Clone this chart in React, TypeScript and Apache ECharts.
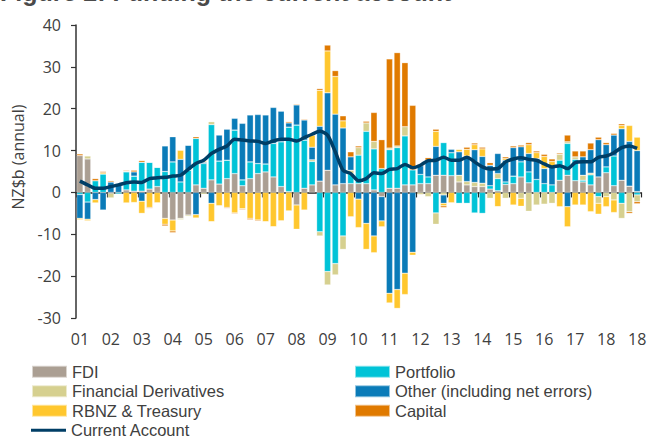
import React, { useEffect, useRef } from "react";
import * as echarts from "echarts";

const tickLabels = ["01","02","03","04","05","06","07","08","09","10","11","12","13","14","15","16","17","18","18"];

const fdi = [8.8,8.0,0,0,-0.2,0,0.6,0.3,0.3,0.8,1.4,-6.2,-6.6,-6.2,-5.4,1.8,1.0,3.0,2.0,3.3,4.5,1.6,3.3,4.5,4.9,3.7,1.4,0.2,-3.0,1.0,1.8,2.7,5.3,1.8,2.1,2.1,2.1,2.1,0.6,-1.0,1.0,1.0,1.8,1.8,2.1,2.1,4.1,4.1,4.0,2.5,1.8,1.4,1.4,0.8,0.4,1.9,2.1,3.7,2.3,0,0,0,2.9,4.1,2.8,2.5,1.8,3.7,4.7,1.6,2.9,1.5,0.2];
const portfolio = [-0.5,-2.3,2.8,4.4,0,-0.4,4.3,3.6,6.9,6.4,4.6,5.0,7.3,2.5,5.3,11.1,5.9,13.2,5.5,4.4,10.4,1.4,4.0,2.4,1.9,8.0,10.7,15.4,16.1,11.5,5.6,-9.4,-18.9,-17.0,-10.4,2.4,6.8,12.5,9.8,5.7,9.2,9.7,11.7,3.6,2.2,1.6,-4.9,7.8,5.5,-2.6,-2.6,-4.9,-5.0,0.8,2.9,0.6,1.8,3.6,2.6,3.1,2.1,1.8,4.8,7.6,5.1,0.4,2.4,-1.0,1.4,7.1,-2.6,0,-0.6];
const derivatives = [0,0.7,0,0,-1.1,0,0.2,0,0,0,0,0,0,-0.3,-0.3,0,-0.4,0.7,0,0,0,0,0,0,0,0,0,0,0,0,0.4,-1.0,-3.2,-2.7,-3.2,0.8,1.8,2.0,1.8,0,0.4,0.4,2.2,0,-0.5,-1.0,-2.7,-0.6,0,1.6,0.8,1.0,0.8,-1.4,1.2,-1.4,0,-1.4,-4.5,-3.0,-2.8,-2.6,1.4,0.4,0.6,1.2,0.4,-1.6,-1.0,-1.8,-3.6,-4.6,-1.6];
const other = [-5.7,-4.1,-1.7,-4.2,2.5,2.2,0,1.0,-2.1,0,0,6.1,6.0,5.4,6.0,-5.3,0.3,-2.6,6.2,7.4,2.8,13.5,11.2,11.7,11.7,8.6,7.3,1.0,4.8,4.8,3.0,13.1,18.5,16.9,13.3,3.2,-1.6,-7.4,-10.4,-5.8,-24.1,-23.2,-19.3,-14.3,2.1,4.0,6.9,-2.0,0.8,5.6,6.1,7.8,6.4,4.9,4.8,5.2,6.8,3.6,4.4,5.0,3.6,4.4,0,-3.4,0,4.4,5.6,8.9,5.3,5.0,12.3,10.7,9.8];
const rbnz = [-0.3,-0.4,-0.8,0.3,0,0,-2.5,-2.4,-2.9,-3.6,-2.5,-1.4,-2.6,2.2,0,-0.8,0.3,-4.4,-3.2,-3.6,-4.9,-3.9,-6.2,-6.6,-7.0,-8.2,-6.8,-4.4,-5.8,-4.2,2.9,8.6,10.0,9.0,1.7,-5.8,-6.8,-6.2,-4.0,-1.4,-2.3,-4.5,-5.1,-0.7,0,0,3.6,-0.6,-2.5,0.6,1.6,1.2,1.8,0,-3.4,0.4,-3.0,-1.9,2.1,1.4,2.9,1.2,-3.4,-4.8,-3.0,-3.0,-4.6,-2.6,-2.4,-3.0,0.8,3.8,3.2];
const capital = [0.4,0,0.5,0.3,0.3,0.1,0.2,0.4,0.4,-0.2,0,-0.4,-0.4,0,0,0.4,0,0,0,-0.2,-0.2,-0.2,-0.3,-0.2,0,0,0,0.3,0.2,0.2,0,0.4,1.4,1.4,1.2,1.2,0.4,0.4,6.9,6.9,21.3,22.3,15.3,15.4,0.3,0.6,0.5,-0.4,0,0,0.5,0.4,0.4,0.6,0,0.4,0.4,0.4,0.5,0.4,0.5,0.6,0.3,1.6,1.4,1.4,1.6,0.6,0.5,0.4,0.4,-0.4,-0.5];
const currentAccount = [2.7,1.8,1.0,1.0,1.4,1.8,2.3,2.5,2.4,3.3,3.5,3.6,3.9,4.1,5.5,6.9,7.7,9.3,10.3,11.1,12.7,12.5,12.3,12.2,11.7,12.3,12.7,12.7,12.3,13.1,13.9,14.6,13.7,9.7,5.3,4.5,2.8,3.3,4.7,4.5,5.5,5.7,6.7,5.9,6.5,7.6,7.7,8.4,7.7,7.7,8.4,7.3,6.1,5.6,5.7,7.3,8.0,8.3,7.9,7.7,6.8,6.1,6.4,5.7,7.1,7.3,7.3,8.4,8.7,9.5,10.7,11.1,10.5];

const quarters = currentAccount.map((_, i) => `${2001 + Math.floor(i / 4)}Q${(i % 4) + 1}`);

const FONT = "'Open Sans', 'Liberation Sans', sans-serif";
const LEGEND_FONT = "'Liberation Sans', Arial, sans-serif";
const TXT = "#404040";

const legendBase = {
  orient: "vertical",
  itemWidth: 35,
  itemHeight: 12,
  itemGap: 0,
  padding: 0,
  textStyle: { fontSize: 16.5, color: TXT, lineHeight: 19.5, fontFamily: LEGEND_FONT },
};

export default function App() {
  const ref = useRef<HTMLDivElement>(null);
  useEffect(() => {
    if (!ref.current) return;
    const chart = echarts.init(ref.current, null, { renderer: "svg" });
    const barSeries = (name: string, data: number[], color: string) => ({
      name,
      type: "bar",
      stack: "flows",
      data,
      barCategoryGap: "18%",
      itemStyle: { color, borderColor: "rgba(255,255,255,0.55)", borderWidth: 0.5 },
      emphasis: { disabled: true },
    });
    chart.setOption({
      animation: false,
      textStyle: { fontFamily: FONT },
      grid: { left: 76, right: 11, top: 25, bottom: 123 },
      graphic: [
        {
          type: "text",
          left: 0,
          top: -21,
          style: { text: "Figure 2: Funding the current account", fontSize: 25, fontWeight: "bold", fill: "#4a4a4a", fontFamily: "'Liberation Sans', sans-serif" },
        },
        {
          type: "text",
          x: 18,
          y: 157,
          rotation: Math.PI / 2,
          style: { text: "NZ$b (annual)", fontSize: 16, fill: TXT, fontFamily: FONT, align: "center", verticalAlign: "middle" },
        },
      ],
      legend: [
        {
          ...legendBase,
          left: 31,
          top: 362,
          data: [
            { name: "FDI", icon: "rect" },
            { name: "Financial Derivatives", icon: "rect" },
            { name: "RBNZ & Treasury", icon: "rect" },
          ],
        },
        {
          ...legendBase,
          left: 31,
          top: 420.5,
          data: [{ name: "Current Account", icon: "path://M0,0 L36,0 L36,3 L0,3 Z" }],
        },
        {
          ...legendBase,
          left: 354,
          top: 362,
          data: [
            { name: "Portfolio", icon: "rect" },
            { name: "Other (including net errors)", icon: "rect" },
            { name: "Capital", icon: "rect" },
          ],
        },
      ],
      xAxis: [
        {
          type: "category",
          data: quarters,
          position: "bottom",
          axisLine: { show: false, onZero: false },
          axisTick: { show: false },
          axisLabel: {
            interval: 3,
            margin: 13,
            fontSize: 16,
            color: TXT,
            fontFamily: FONT,
            formatter: (_v: string, idx: number) => (idx % 4 === 0 ? tickLabels[idx / 4] : ""),
          },
        },
        {
          type: "category",
          data: quarters,
          position: "bottom",
          axisLine: { show: true, onZero: true, lineStyle: { color: "#222", width: 1.6 } },
          axisTick: { show: true, interval: 3, length: 5, lineStyle: { color: "#222", width: 1.2 } },
          axisLabel: { show: false },
        },
      ],
      yAxis: {
        type: "value",
        min: -30,
        max: 40,
        interval: 10,
        axisLine: { show: true, lineStyle: { color: "#333", width: 1.5 } },
        axisTick: { show: true, length: 5, lineStyle: { color: "#333", width: 1.2 } },
        splitLine: { show: false },
        axisLabel: { fontSize: 16, color: TXT, margin: 15, fontFamily: FONT },
      },
      series: [
        barSeries("FDI", fdi, "#ab9f93"),
        barSeries("Portfolio", portfolio, "#00c3d7"),
        barSeries("Financial Derivatives", derivatives, "#d6d08f"),
        barSeries("Other (including net errors)", other, "#0a7bb8"),
        barSeries("RBNZ & Treasury", rbnz, "#ffc72e"),
        barSeries("Capital", capital, "#e07a00"),
        {
          name: "Current Account",
          type: "line",
          data: currentAccount,
          smooth: 0.25,
          symbol: "none",
          z: 5,
          lineStyle: { color: "#003e66", width: 3.5 },
          itemStyle: { color: "#003e66" },
          emphasis: { disabled: true },
        },
      ],
    });
    return () => chart.dispose();
  }, []);
  return <div ref={ref} style={{ width: 652, height: 441, position: "absolute", left: 0, top: 0 }} />;
}
